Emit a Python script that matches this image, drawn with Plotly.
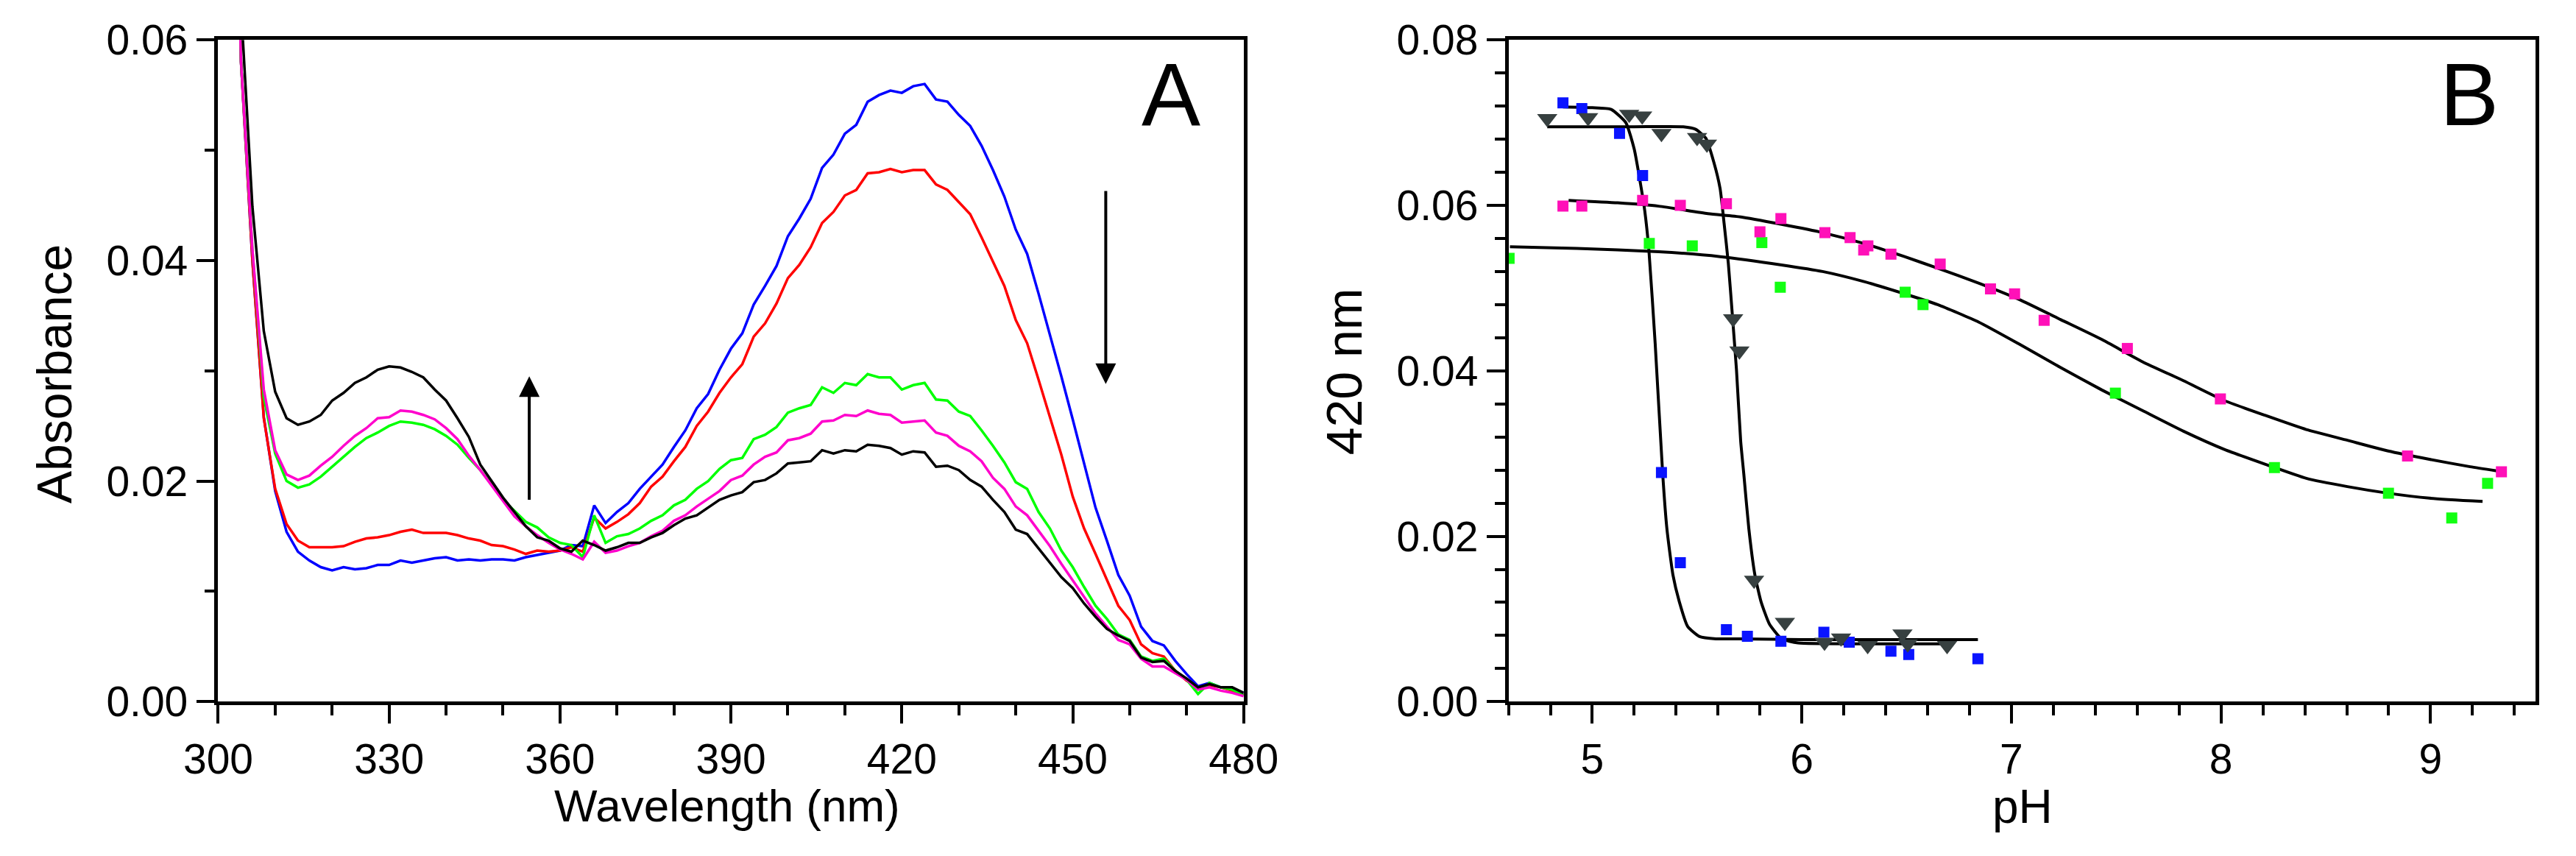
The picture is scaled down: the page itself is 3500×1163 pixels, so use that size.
import plotly.graph_objects as go

FONT = "Liberation Sans, Arial, Helvetica, sans-serif"

# ---------------- Panel A: spectra ----------------
WL = list(range(302, 482, 2))

A_blue = [0.100, 0.058, 0.040, 0.0258, 0.0191, 0.0154, 0.0136, 0.0128, 0.0122, 0.0119,
          0.0122, 0.0120, 0.0121, 0.0124, 0.0124, 0.0128, 0.0126, 0.0128, 0.0130, 0.0131,
          0.0128, 0.0129, 0.0128, 0.0129, 0.0129, 0.0128, 0.0131, 0.0133, 0.0135, 0.0137,
          0.0142, 0.0141, 0.0178, 0.0162, 0.0172, 0.0180, 0.0193, 0.0204, 0.0215, 0.0231,
          0.0246, 0.0266, 0.0279, 0.0301, 0.0320, 0.0334, 0.0360, 0.0377, 0.0395, 0.0422,
          0.0438, 0.0456, 0.0484, 0.0496, 0.0515, 0.0523, 0.0544, 0.0550, 0.0554, 0.0552,
          0.0558, 0.0560, 0.0546, 0.0544, 0.0532, 0.0522, 0.0504, 0.0482, 0.0458, 0.0428,
          0.0406, 0.0370, 0.0333, 0.0295, 0.0256, 0.0216, 0.0176, 0.0146, 0.0115, 0.0096,
          0.0068, 0.0055, 0.0051, 0.0037, 0.0025, 0.0014, 0.0017, 0.0013, 0.0012, 0.0008]

A_red = [0.100, 0.058, 0.040, 0.0257, 0.0193, 0.0161, 0.0146, 0.0140, 0.0140, 0.0140,
         0.0141, 0.0145, 0.0148, 0.0149, 0.0151, 0.0154, 0.0156, 0.0153, 0.0153, 0.0153,
         0.0151, 0.0148, 0.0146, 0.0142, 0.0141, 0.0138, 0.0134, 0.0137, 0.0136, 0.0137,
         0.0140, 0.0136, 0.0167, 0.0157, 0.0163, 0.0170, 0.0180, 0.0195, 0.0204, 0.0218,
         0.0231, 0.0250, 0.0263, 0.0280, 0.0294, 0.0306, 0.0331, 0.0343, 0.0361, 0.0384,
         0.0396, 0.0412, 0.0434, 0.0444, 0.0459, 0.0464, 0.0479, 0.0480, 0.0483, 0.0480,
         0.0482, 0.0482, 0.0469, 0.0464, 0.0453, 0.0442, 0.0421, 0.0399, 0.0377, 0.0346,
         0.0325, 0.0292, 0.0257, 0.0224, 0.0186, 0.0157, 0.0134, 0.0111, 0.0087, 0.0074,
         0.0052, 0.0044, 0.0041, 0.0028, 0.0019, 0.0013, 0.0015, 0.0013, 0.0010, 0.0006]

A_green = [0.100, 0.058, 0.041, 0.0276, 0.0225, 0.0200, 0.0194, 0.0197, 0.0204, 0.0213,
           0.0222, 0.0231, 0.0239, 0.0244, 0.0250, 0.0254, 0.0253, 0.0251, 0.0247, 0.0241,
           0.0233, 0.0221, 0.0210, 0.0197, 0.0183, 0.0173, 0.0163, 0.0158, 0.0149, 0.0144,
           0.0142, 0.0131, 0.0169, 0.0144, 0.0150, 0.0152, 0.0157, 0.0164, 0.0169, 0.0178,
           0.0183, 0.0193, 0.0200, 0.0211, 0.0219, 0.0221, 0.0238, 0.0242, 0.0249, 0.0262,
           0.0266, 0.0269, 0.0285, 0.0280, 0.0289, 0.0287, 0.0297, 0.0294, 0.0294, 0.0283,
           0.0287, 0.0289, 0.0274, 0.0273, 0.0263, 0.0259, 0.0246, 0.0232, 0.0217, 0.0199,
           0.0193, 0.0172, 0.0157, 0.0137, 0.0122, 0.0104, 0.0087, 0.0075, 0.0061, 0.0056,
           0.0041, 0.0037, 0.0039, 0.0028, 0.0020, 0.0007, 0.0017, 0.0013, 0.0011, 0.0006]

A_magenta = [0.100, 0.058, 0.041, 0.0283, 0.0228, 0.0206, 0.0201, 0.0205, 0.0214, 0.0222,
             0.0232, 0.0241, 0.0248, 0.0257, 0.0258, 0.0264, 0.0263, 0.0260, 0.0256, 0.0248,
             0.0238, 0.0223, 0.0210, 0.0196, 0.0182, 0.0168, 0.0159, 0.0151, 0.0144, 0.0138,
             0.0134, 0.0129, 0.0145, 0.0135, 0.0137, 0.0141, 0.0144, 0.0150, 0.0155, 0.0164,
             0.0169, 0.0177, 0.0184, 0.0191, 0.0201, 0.0205, 0.0215, 0.0222, 0.0226, 0.0237,
             0.0239, 0.0243, 0.0254, 0.0255, 0.0260, 0.0259, 0.0264, 0.0261, 0.0260, 0.0253,
             0.0254, 0.0255, 0.0244, 0.0241, 0.0232, 0.0227, 0.0218, 0.0203, 0.0193, 0.0177,
             0.0169, 0.0155, 0.0141, 0.0125, 0.0110, 0.0095, 0.0080, 0.0068, 0.0056, 0.0052,
             0.0039, 0.0032, 0.0032, 0.0026, 0.0020, 0.0011, 0.0013, 0.0010, 0.0008, 0.0005]

A_black = [0.100, 0.063, 0.0449, 0.0336, 0.0281, 0.0257, 0.0251, 0.0254, 0.0260, 0.0273,
           0.0280, 0.0289, 0.0294, 0.0301, 0.0304, 0.0303, 0.0299, 0.0294, 0.0283, 0.0273,
           0.0257, 0.0240, 0.0215, 0.0200, 0.0185, 0.0172, 0.0159, 0.0149, 0.0146, 0.0139,
           0.0136, 0.0146, 0.0142, 0.0137, 0.0140, 0.0144, 0.0144, 0.0149, 0.0153, 0.0160,
           0.0166, 0.0169, 0.0176, 0.0183, 0.0187, 0.0190, 0.0199, 0.0201, 0.0207, 0.0216,
           0.0217, 0.0218, 0.0228, 0.0225, 0.0228, 0.0227, 0.0233, 0.0232, 0.0230, 0.0224,
           0.0227, 0.0226, 0.0213, 0.0214, 0.0210, 0.0201, 0.0195, 0.0183, 0.0172, 0.0156,
           0.0152, 0.0139, 0.0126, 0.0113, 0.0103, 0.0089, 0.0077, 0.0066, 0.0060, 0.0055,
           0.0040, 0.0036, 0.0037, 0.0028, 0.0021, 0.0013, 0.0016, 0.0013, 0.0013, 0.0008]

A_xticks = [300, 330, 360, 390, 420, 450, 480]
A_yticks = [0.00, 0.02, 0.04, 0.06]

# ---------------- Panel B: pH titration ----------------
pH_blue = [4.86, 4.95, 5.13, 5.24, 5.33, 5.42, 5.64, 5.74, 5.90, 6.105, 6.226, 6.425, 6.51, 6.84]
A_blue_pts = [0.0724, 0.0717, 0.0687, 0.0636, 0.0277, 0.0168, 0.0087, 0.0079, 0.0073,
              0.0084, 0.0072, 0.0061, 0.0057, 0.0052]

pH_gray = [4.785, 4.98, 5.176, 5.238, 5.33, 5.50, 5.547, 5.672, 5.702, 5.772, 5.919,
           6.108, 6.187, 6.314, 6.48, 6.505, 6.693]
A_gray_pts = [0.0705, 0.0706, 0.0710, 0.0708, 0.0687, 0.0682, 0.0674, 0.0463, 0.0424,
              0.0147, 0.0096, 0.0072, 0.0077, 0.0068, 0.0082, 0.0070, 0.0068]

pH_pink = [4.86, 4.95, 5.24, 5.42, 5.64, 5.80, 5.90, 6.11, 6.23, 6.295, 6.315, 6.425,
           6.66, 6.90, 7.015, 7.156, 7.553, 7.997, 8.89, 9.338]
A_pink_pts = [0.0599, 0.0599, 0.0606, 0.0600, 0.0602, 0.0568, 0.0584, 0.0567, 0.0561,
              0.0546, 0.0551, 0.0541, 0.0529, 0.0499, 0.0493, 0.0461, 0.0427, 0.0366,
              0.0297, 0.0278]

pH_green = [4.603, 5.272, 5.477, 5.809, 5.897, 6.493, 6.578, 7.496, 8.255, 8.799, 9.101, 9.272]
A_green_pts = [0.0536, 0.0554, 0.0551, 0.0555, 0.0501, 0.0495, 0.0480, 0.0373, 0.0283,
               0.0252, 0.0222, 0.0264]

# fitted curves
fit_blue_pH = [4.86, 5.00, 5.09, 5.16, 5.20, 5.23, 5.25, 5.27, 5.30, 5.336, 5.356,
               5.385, 5.415, 5.455, 5.51, 5.59, 5.70, 6.00, 6.84]
fit_blue_A = [0.0719, 0.0718, 0.0716, 0.0700, 0.0668, 0.0626, 0.0594, 0.0546, 0.0433,
              0.0275, 0.0209, 0.0153, 0.0121, 0.0091, 0.0079, 0.0076, 0.0076, 0.0075, 0.0075]

fit_gray_pH = [4.785, 5.20, 5.434, 5.493, 5.542, 5.580, 5.610, 5.629, 5.649, 5.669, 5.688,
               5.708, 5.723, 5.747, 5.776, 5.805, 5.845, 5.903, 5.982, 6.30, 6.703]
fit_gray_A = [0.0695, 0.0695, 0.0695, 0.0692, 0.0681, 0.0652, 0.0620, 0.0578, 0.0530,
              0.0465, 0.0401, 0.0315, 0.0275, 0.0209, 0.0153, 0.0121, 0.0094, 0.0076,
              0.0071, 0.0070, 0.0070]

fit_pink_pH = [4.887, 5.121, 5.317, 5.551, 5.708, 5.903, 6.099, 6.294, 6.49, 6.648, 6.843,
               7.039, 7.234, 7.43, 7.625, 7.821, 8.016, 8.212, 8.407, 8.603, 8.798, 8.994,
               9.189, 9.316]
fit_pink_A = [0.0606, 0.0603, 0.0599, 0.0590, 0.0586, 0.0577, 0.0567, 0.0554, 0.0538,
              0.0524, 0.0506, 0.0486, 0.0462, 0.0438, 0.0411, 0.0388, 0.0364, 0.0346,
              0.0329, 0.0316, 0.0303, 0.0293, 0.0284, 0.0279]

fit_green_pH = [4.607, 4.926, 5.317, 5.610, 5.903, 6.099, 6.294, 6.49, 6.648, 6.843, 7.039,
                7.234, 7.43, 7.625, 7.821, 8.016, 8.212, 8.407, 8.603, 8.798, 8.994, 9.248]
fit_green_A = [0.0550, 0.0548, 0.0544, 0.0538, 0.0528, 0.0520, 0.0508, 0.0493, 0.0480,
               0.0459, 0.0432, 0.0404, 0.0377, 0.0352, 0.0327, 0.0305, 0.0287, 0.0270,
               0.0260, 0.0252, 0.0246, 0.0242]

B_xticks = [5, 6, 7, 8, 9]
B_yticks = [0.00, 0.02, 0.04, 0.06, 0.08]

# ---------------- figure ----------------
fig = go.Figure()

spectra = [(A_blue, "#0000ff"), (A_red, "#ff0000"), (A_green, "#00ff00"),
           (A_magenta, "#ff00cc"), (A_black, "#000000")]
for ys, col in spectra:
    fig.add_trace(go.Scatter(x=WL, y=ys, mode="lines", line=dict(color=col, width=3.5),
                             xaxis="x", yaxis="y", showlegend=False, hoverinfo="skip"))

fits = [(fit_blue_pH, fit_blue_A), (fit_gray_pH, fit_gray_A),
        (fit_pink_pH, fit_pink_A), (fit_green_pH, fit_green_A)]
for xs, ys in fits:
    fig.add_trace(go.Scatter(x=xs, y=ys, mode="lines",
                             line=dict(color="black", width=4, shape="spline", smoothing=0.5),
                             xaxis="x2", yaxis="y2", showlegend=False, hoverinfo="skip"))

points = [(pH_green, A_green_pts, "#12ff12", "square", 15),
          (pH_pink, A_pink_pts, "#ff10b8", "square", 15),
          (pH_blue, A_blue_pts, "#0a14ff", "square", 15),
          (pH_gray, A_gray_pts, "#374040", "triangle-down", 24)]
for xs, ys, col, sym, sz in points:
    fig.add_trace(go.Scatter(x=xs, y=ys, mode="markers",
                             marker=dict(color=col, symbol=sym, size=sz, line=dict(width=0)),
                             xaxis="x2", yaxis="y2", showlegend=False, hoverinfo="skip"))

tickfont = dict(family=FONT, size=57, color="black")
common = dict(showline=True, linecolor="black", linewidth=4.5, mirror=True,
              ticks="outside", ticklen=25, tickwidth=4, tickcolor="black",
              showgrid=False, zeroline=False, tickfont=tickfont,
              ticklabeloverflow="allow")
minor_common = dict(ticks="outside", ticklen=14, tickwidth=4, tickcolor="black",
                    showgrid=False)

ydom = [1 - 975 / 1163, 1 - 23.5 / 1163]
fig.update_layout(
    width=3500, height=1163,
    margin=dict(l=0, r=0, t=0, b=0),
    paper_bgcolor="white", plot_bgcolor="white",
    xaxis=dict(domain=[255.5 / 3500, 1688 / 3500], range=[300, 480],
               tickvals=A_xticks, anchor="y", **common,
               minor=dict(minor_common, dtick=10, tick0=300)),
    yaxis=dict(domain=ydom, range=[0, 0.06], tickvals=A_yticks,
               ticktext=[f"{v:.2f}" for v in A_yticks], anchor="x", **common,
               minor=dict(minor_common, dtick=0.01, tick0=0)),
    xaxis2=dict(domain=[2058 / 3500, 3492.6 / 3500], range=[4.6, 9.5],
                tickvals=B_xticks, anchor="y2", **common,
                minor=dict(minor_common, dtick=0.2, tick0=0)),
    yaxis2=dict(domain=ydom, range=[0, 0.08], tickvals=B_yticks,
                ticktext=[f"{v:.2f}" for v in B_yticks], anchor="x2", **common,
                minor=dict(minor_common, dtick=0.004, tick0=0)),
)

# arrows in panel A
ARROW_UP = dict(x=354.6, tip=0.0295, tail=0.0182)
ARROW_DOWN = dict(x=455.8, tip=0.0288, tail=0.0464)
for a in (ARROW_UP, ARROW_DOWN):
    fig.add_annotation(x=a["x"], y=a["tip"], ax=a["x"], ay=a["tail"], xref="x", yref="y",
                       axref="x", ayref="y", text="", showarrow=True, arrowhead=2,
                       arrowsize=1.4, arrowwidth=4, arrowcolor="black")

labels = [
    ("Absorbance", 26.5 / 3500, 1 - 504 / 1163, 66, -90),
    ("Wavelength (nm)", 966.5 / 3500, 1 - 1124 / 1163, 62, 0),
    ("420 nm", 1829 / 3500, 1 - 500 / 1163, 68, -90),
    ("pH", 2776 / 3500, 1 - 1126 / 1163, 64, 0),
    ("A", 1587 / 3500, 1 - 102 / 1163, 120, 0),
    ("B", 3400 / 3500, 1 - 102 / 1163, 120, 0),
]
for txt, x, y, sz, ang in labels:
    fig.add_annotation(text=txt, x=x, y=y, xref="paper", yref="paper", showarrow=False,
                       xanchor="center", yanchor="middle", textangle=ang,
                       font=dict(family=FONT, size=sz, color="black"))

fig.write_html("out.html")
